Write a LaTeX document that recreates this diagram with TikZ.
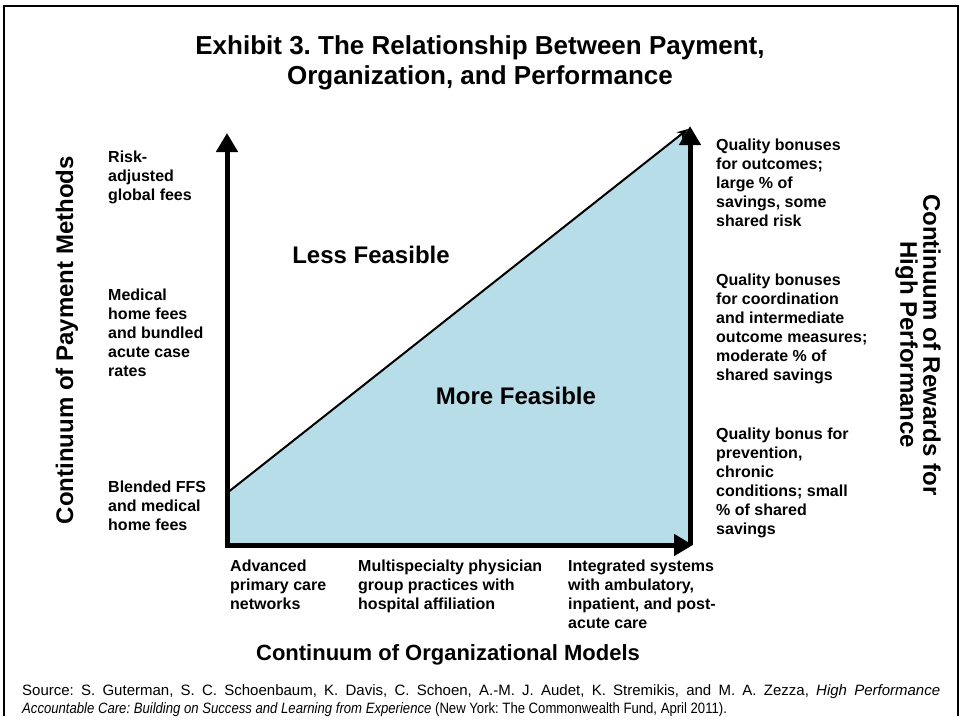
\documentclass[tikz,border=0pt]{standalone}
\usepackage{fontspec}
\usepackage{graphicx}
\setmainfont{Liberation Sans}
\usetikzlibrary{arrows.meta}
\definecolor{feas}{RGB}{183,222,232}
\frenchspacing
\begin{document}
\begin{tikzpicture}[x=1pt,y=-1pt,
  lbl/.style={font=\fontsize{16}{19}\selectfont\bfseries, align=left, anchor=north west, inner sep=0pt},
  big/.style={font=\fontsize{24}{23}\selectfont\bfseries, align=center, inner sep=0pt},
  axisline/.style={line width=5pt, -{Triangle[width=21pt,length=19pt]}},
  diag/.style={line width=2pt, -{Stealth[width=9pt,length=11pt]}},
  frame/.style={line width=2pt}]
\useasboundingbox (0,0) rectangle (960,725);
% frame
\coordinate (f1) at (4,716);
\coordinate (f2) at (4,6);
\coordinate (f3) at (958,6);
\coordinate (f4) at (958,716);
\draw[frame] (f1) -- (f2) -- (f3) -- (f4);
% key points
\coordinate (O) at (227,545);
\coordinate (Ytop) at (227,133);
\coordinate (Xend) at (693,545);
\coordinate (R) at (690,545);
\coordinate (Rtop) at (690,126);
\coordinate (D0) at (227,493);
\coordinate (D1) at (688,129);
\coordinate (Dfill) at (690,127);
% fill
\fill[feas] (O) -- (D0) -- (Dfill) -- (R) -- cycle;
% axes
\draw[axisline] (R) -- (Rtop);
\draw[axisline] ([xshift=-2.5pt]O) -- (Xend);
\draw[axisline] ([yshift=2.5pt]O) -- (Ytop);
\draw[diag] (D0) -- (D1);
% title
\node[font=\fontsize{26}{30}\selectfont\bfseries, align=center, inner sep=0pt] (title) at (480,63)
  {Exhibit 3. The Relationship Between Payment,\\Organization, and Performance};
% region labels
\node[big] (less) at (371,255) {Less Feasible};
\node[big] (more) at (516,396) {More Feasible};
% axis titles
\node[big, font=\fontsize{22}{23}\selectfont\bfseries] (xlab) at (448,655) {Continuum of Organizational Models};
\node[big, rotate=90] (ylab) at (67,340) {Continuum of Payment Methods};
\node[big, rotate=-90] (rlab) at (918,345) {Continuum of Rewards for\\High Performance};
% left labels
\node[lbl] (l1) at (108,151) {Risk-\\adjusted\\global fees};
\node[lbl] (l2) at (108,289) {Medical\\home fees\\and bundled\\acute case\\rates};
\node[lbl] (l3) at (108,481) {Blended FFS\\and medical\\home fees};
% right labels
\node[lbl] (r1) at (716,139) {Quality bonuses\\for outcomes;\\large \% of\\savings, some\\shared risk};
\node[lbl] (r2) at (716,274) {Quality bonuses\\for coordination\\and intermediate\\outcome measures;\\moderate \% of\\shared savings};
\node[lbl] (r3) at (716,428) {Quality bonus for\\prevention,\\chronic\\conditions; small\\\% of shared\\savings};
% bottom labels
\node[lbl] (b1) at (230,560) {Advanced\\primary care\\networks};
\node[lbl] (b2) at (358,560) {Multispecialty physician\\group practices with\\hospital affiliation};
\node[lbl] (b3) at (568,560) {Integrated systems\\with ambulatory,\\inpatient, and post-\\acute care};
% source
\node[font=\fontsize{15}{18.5}\selectfont, align=left, anchor=north west, inner sep=0pt] (src) at (22,684)
  {\makebox[918pt][s]{Source: S. Guterman, S. C. Schoenbaum, K. Davis, C. Schoen, A.-M. J. Audet, K. Stremikis, and M. A. Zezza, \textit{High Performance}}\\\scalebox{0.875}[1]{\textit{Accountable Care: Building on Success and Learning from Experience} (New York: The Commonwealth Fund, April 2011).}};
\end{tikzpicture}
\end{document}
